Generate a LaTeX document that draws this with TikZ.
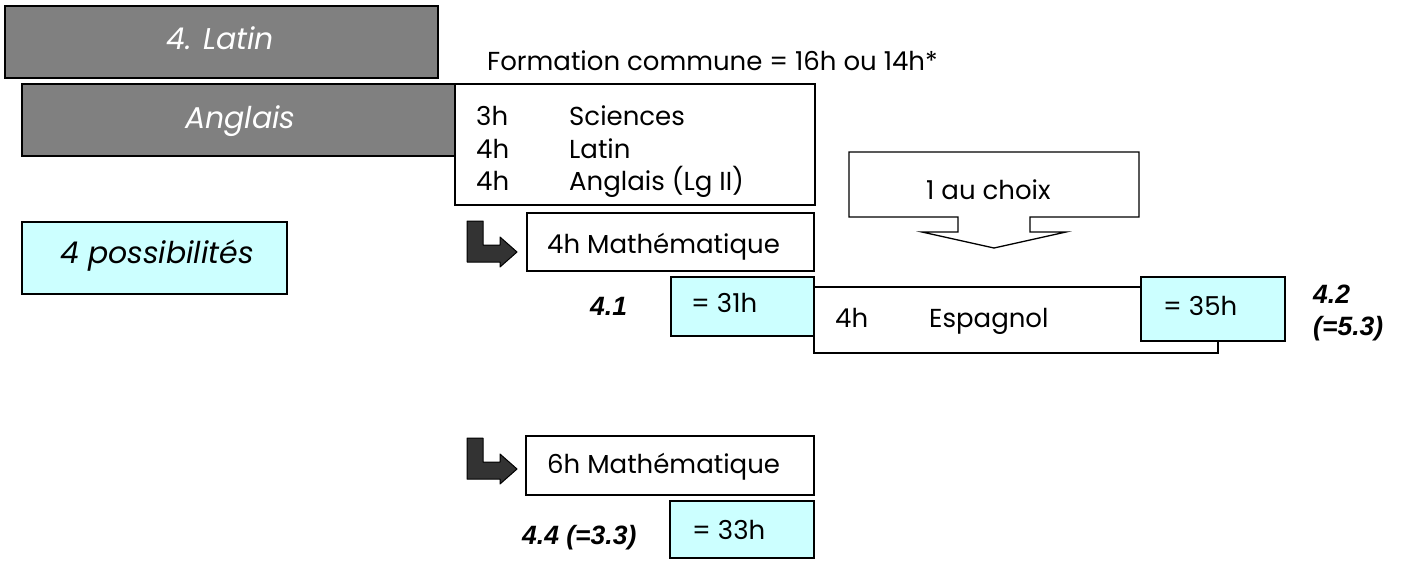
\documentclass[tikz,border=0pt]{standalone}
\usepackage{fontspec}
\setmainfont{Poppins}
\newfontfamily\arialfont{Liberation Sans}
\definecolor{boxgray}{HTML}{808080}
\definecolor{lightcyan}{HTML}{CCFFFF}
\definecolor{arrowdark}{HTML}{333333}
\tikzset{
  rect/.style={draw=black, line width=1.3pt, inner sep=0pt, outer sep=0pt, anchor=north west},
  graybox/.style={rect, fill=boxgray, line width=1.8pt},
  whitebox/.style={rect, fill=white},
  cyanbox/.style={rect, fill=lightcyan},
  txt/.style={anchor=base west, inner sep=0pt, font=\fontsize{26}{31}\selectfont},
  bigtxt/.style={anchor=base west, inner sep=0pt, font=\fontsize{30}{36}\selectfont\itshape},
  lbl/.style={anchor=base west, inner sep=0pt, font=\fontsize{26.5}{32}\selectfont\arialfont\bfseries\itshape},
  bentarrow/.style={fill=arrowdark, draw=black, line width=1pt, line join=round},
  callout/.style={fill=white, draw=black, line width=1.3pt, line join=miter}
}
\begin{document}
\begin{tikzpicture}[x=1pt, y=-1pt]
\useasboundingbox (0,0) rectangle (1402,560);
% grey title boxes
\node[graybox, minimum width=433pt, minimum height=72pt] (latin) at (5,6) {};
\node[bigtxt, text=white] (latint) at (166,49) {4. Latin};
\node[graybox, minimum width=433pt, minimum height=72pt] (anglais) at (22,84) {};
\node[bigtxt, text=white] (anglaist) at (185,128) {Anglais};
% 4 possibilites
\node[cyanbox, line width=1.6pt, minimum width=265pt, minimum height=72pt] (poss) at (22,222) {};
\node[bigtxt] (posst) at (60,263) {4 possibilités};
% formation commune
\node[txt] (form) at (487,70) {Formation commune = 16h ou 14h*};
\node[whitebox, minimum width=360pt, minimum height=121pt] (sci) at (455,84) {};
\node[txt] (h1) at (476,125) {3h};
\node[txt] (s1) at (569,125) {Sciences};
\node[txt] (h2) at (476,158) {4h};
\node[txt] (s2) at (569,158) {Latin};
\node[txt] (h3) at (476,190) {4h};
\node[txt] (s3) at (569,190) {Anglais (Lg II)};
% 1 au choix callout
\draw[callout] (849,152) -- (1139,152) -- (1139,217) -- (1030,217) -- (1030,232)
  -- (1066,232) -- (994,248) -- (922,232) -- (958,232) -- (958,217) -- (849,217) -- cycle;
\node[txt] (choix) at (926,199) {1 au choix};
% first bent arrow
\draw[bentarrow] (467,221) -- (483,221) -- (483,245) -- (500,245) -- (500,237) -- (517,252)
  -- (500,267) -- (500,262) -- (467,262) -- cycle;
\node[whitebox, minimum width=287pt, minimum height=58pt] (math4) at (527,213) {};
\node[txt] (math4t) at (547,253) {4h Mathématique};
% results row
\node[lbl] (l41) at (590,315) {4.1};
\node[cyanbox, minimum width=143pt, minimum height=59pt] (h31) at (671,277) {};
\node[txt] (h31t) at (691,312) {= 31h};
\node[whitebox, minimum width=404pt, minimum height=66pt] (esp) at (814,287) {};
\node[txt] (esph) at (835,327) {4h};
\node[txt] (espt) at (929,327) {Espagnol};
\node[cyanbox, minimum width=144pt, minimum height=64pt] (h35) at (1141,277) {};
\node[txt] (h35t) at (1163,315) {= 35h};
\node[lbl] (l42) at (1313,303) {4.2};
\node[lbl] (l53) at (1313,335) {(=5.3)};
% second bent arrow
\draw[bentarrow] (467,438) -- (483,438) -- (483,462) -- (500,462) -- (500,454) -- (517,469)
  -- (500,484) -- (500,479) -- (467,479) -- cycle;
\node[whitebox, minimum width=288pt, minimum height=59pt] (math6) at (526,436) {};
\node[txt] (math6t) at (547,473) {6h Mathématique};
\node[lbl] (l44) at (522,544) {4.4 (=3.3)};
\node[cyanbox, minimum width=144pt, minimum height=57pt] (h33) at (670,501) {};
\node[txt] (h33t) at (692,539) {= 33h};
\end{tikzpicture}
\end{document}
